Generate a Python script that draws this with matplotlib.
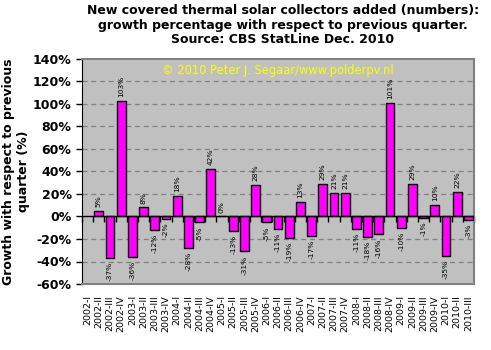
import matplotlib
matplotlib.use("Agg")
import matplotlib.pyplot as plt
import numpy as np

years = [2002, 2003, 2004, 2005, 2006, 2007, 2008, 2009, 2010]
quarters = ["I", "II", "III", "IV"]
categories = [f"{y}-{q}" for y in years for q in quarters][:35]

# growth % (2002-I has no value)
values = [None, 5, -37, 103, -36, 8, -12, -2, 18, -28, -5, 42, 0, -13, -31, 28,
          -5, -11, -19, 13, -17, 29, 21, 21, -11, -18, -16, 101, -10, 29, -1,
          10, -35, 22, -3]

yticks = list(range(-60, 141, 20))

fig = plt.figure(figsize=(4.91, 3.5), dpi=100)
fig.patch.set_facecolor("white")
ax = fig.add_axes([82/491, 1-284/350, (474-82)/491, (284-59)/350])
ax.set_facecolor("#C0C0C0")

x = np.arange(len(categories))
for xi, v in zip(x, values):
    if v is None:
        continue
    ax.bar(xi, v, width=0.8, color="#FF00FF", edgecolor="black", linewidth=1, zorder=3)
    if v >= 0:
        ax.text(xi, v + 3.5, f"{v}%", rotation=90, ha="center", va="bottom", fontsize=5.4, zorder=4)
    else:
        ax.text(xi, v - 3.5, f"{v}%", rotation=90, ha="center", va="top", fontsize=5.4, zorder=4)

ax.set_xlim(-0.5, len(categories) - 0.5)
ax.set_ylim(-60, 140)
ax.set_yticks(yticks)
ax.set_yticklabels([f"{t}%" for t in yticks], fontsize=9, fontweight="bold")
for t in yticks:
    if t not in (0, -60, 140):
        ax.axhline(t, color="#808080", linestyle=(0, (4, 3)), linewidth=0.9, zorder=1)
ax.axhline(0, color="black", linewidth=1, zorder=5)

ax.set_xticks(x)
ax.set_xticklabels(categories, rotation=90, fontsize=6.8)
ax.tick_params(axis="x", length=0, pad=8)
ax.tick_params(axis="y", length=4, direction="out", width=1)

sec = ax.secondary_xaxis(0, transform=ax.transData)
sec.set_xticks(np.arange(-0.5, len(categories), 1))
sec.set_xticklabels([])
sec.tick_params(length=4, width=1, direction="out", color="black")
sec.spines["bottom"].set_visible(False)

ax.spines["left"].set_color("black")
for s in ("top", "right", "bottom"):
    ax.spines[s].set_color("#808080")
    ax.spines[s].set_linewidth(1.5)

ax.set_ylabel("Growth with respect to previous\nquarter (%)", fontsize=9, fontweight="bold", labelpad=2)

ax.text(0.5, 0.951, "© 2010 Peter J. Segaar/www.polderpv.nl", transform=ax.transAxes,
        ha="center", va="center", color="yellow", fontsize=8.3, zorder=6)

fig.text(283/491, 1-4/350,
         "New covered thermal solar collectors added (numbers):\n"
         "growth percentage with respect to previous quarter.\n"
         "Source: CBS StatLine Dec. 2010",
         ha="center", va="top", fontsize=9, fontweight="bold", linespacing=1.15)

fig.savefig("out.png", dpi=100, facecolor="white")
